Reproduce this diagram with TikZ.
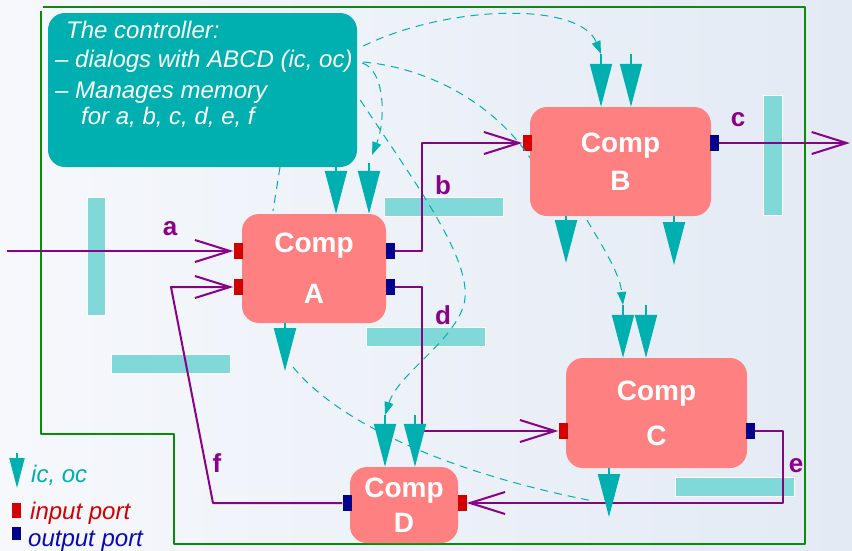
\documentclass[tikz,border=0pt]{standalone}
\usepackage{fontspec}
\setmainfont{Liberation Sans}
\usetikzlibrary{arrows.meta, calc}
\definecolor{cm-bg}{HTML}{F6F8FC}
\definecolor{cm-bgedge}{HTML}{E3EAF4}
\definecolor{cm-frame}{HTML}{0A8C0A}
\definecolor{cm-teal}{HTML}{00B0B0}
\definecolor{cm-bar}{HTML}{80D8D8}
\definecolor{cm-salmon}{HTML}{FF8080}
\definecolor{cm-purple}{HTML}{8B008B}
\definecolor{cm-red}{HTML}{D40000}
\definecolor{cm-navy}{HTML}{00008C}
\definecolor{cm-blue}{HTML}{0A0AB4}

\begin{document}
\begin{tikzpicture}[x=1pt, y=-1pt, line join=round,
  comp/.style={fill=cm-salmon, rounded corners=17pt, text=white, align=center,
    inner sep=0pt, font=\bfseries\fontsize{28}{30}\selectfont},
  inport/.style={fill=cm-red, minimum width=9pt, minimum height=16pt, inner sep=0pt},
  outport/.style={inport, fill=cm-navy},
  sig/.style={draw=cm-purple, line width=2pt,
    -{Straight Barb[length=35pt, width=22pt]}},
  siglabel/.style={text=cm-purple, inner sep=0pt,
    font=\bfseries\fontsize{26}{28}\selectfont},
  bar/.style={fill=cm-bar, draw=white, line width=0.8pt},
  icoc/.style={draw=cm-teal, line width=2pt, -{Triangle[length=43pt, width=22pt]}},
  ctl/.style={draw=cm-teal, line width=1pt, dash pattern=on 8pt off 6pt},
  ctltip/.style={ctl, -{Triangle[length=13pt, width=9pt]}},
  key/.style={anchor=base west, inner sep=0pt,
    font=\itshape\fontsize{24}{28}\selectfont}]

  \useasboundingbox (0,0) rectangle (852,550);
  \shade[left color=cm-bg, right color=cm-bgedge] (0,0) rectangle (852,550);

  % system boundary
  \draw[cm-frame, line width=2pt] (43,7) -- (805,7) -- (805,544) -- (174,544)
    -- (174,434) -- (41,434) -- (41,11);

  % memory cells
  \draw[bar] (87,197) rectangle (105,315);
  \draw[bar] (111,354) rectangle (230,373);
  \draw[bar] (384,197) rectangle (503,216);
  \draw[bar] (366,327) rectangle (485,346);
  \draw[bar] (763,95) rectangle (782,215);
  \draw[bar] (675,477) rectangle (794,496);

  % controller
  \node[fill=cm-teal, rounded corners=17pt, minimum width=309pt,
    minimum height=154pt] (ctrl) at (202.5,90) {};
  \node[anchor=north west, align=left, inner sep=0pt, text=white,
    font=\itshape\fontsize{24}{29}\selectfont] (ctrlText) at (55,21)
    {\hspace*{11pt}The controller:\\
     – dialogs with ABCD (ic, oc)\\[2pt]
     – Manages memory\\[-3pt]
     \hspace*{26pt}for a, b, c, d, e, f};

  % components
  \node[comp, minimum width=144pt, minimum height=109pt] (compA) at (314,268.5) {Comp\\[21pt]A};
  \node[comp, minimum width=181pt, minimum height=109pt] (compB) at (620.5,161.5) {Comp\\[8pt]B};
  \node[comp, minimum width=181pt, minimum height=110pt] (compC) at (656.5,413) {Comp\\[15pt]C};
  \node[comp, minimum width=108pt, minimum height=76pt] (compD) at (404,505) {Comp\\[5pt]D};

  % ports
  \node[inport]  (Aa) at (238,251) {};
  \node[inport]  (Af) at (238,287) {};
  \node[outport] (Ab) at (390,251) {};
  \node[outport] (Ad) at (390,287) {};
  \node[inport]  (Bi) at (527,143) {};
  \node[outport] (Bo) at (714,143) {};
  \node[inport]  (Ci) at (563,431) {};
  \node[outport] (Co) at (750,431) {};
  \node[outport] (Do) at (347,503) {};
  \node[inport]  (Di) at (462,503) {};

  % ic / oc stubs
  \coordinate (Ain1) at (336,163);
  \coordinate (Ain2) at (369,163);
  \coordinate (Aout) at (285,371);
  \coordinate (Bin1) at (601,54);
  \coordinate (Bin2) at (631,54);
  \coordinate (Bout1) at (566,263);
  \coordinate (Bout2) at (674,265);
  \coordinate (Cin1) at (623,305);
  \coordinate (Cin2) at (646,305);
  \coordinate (Cout) at (609,517);
  \coordinate (Din1) at (385,415);
  \coordinate (Din2) at (415,415);
  \coordinate (aSrc) at (7,251);
  \coordinate (cEnd) at (850,143);

  % control dialog
  \draw[ctltip] ($(ctrl.east)+(6,-44)$) .. controls (450,4) and (580,2) .. (Bin1);
  \draw[ctl] ($(ctrl.east)+(6,-28)$) .. controls (430,68) and (495,105) .. ($(compB.west)+(0,-4)$);
  \draw[ctltip] ($(ctrl.east)+(5,-27)$) .. controls (385,70) and (386,120) .. ($(Ain2)+(3,-8)$);
  \draw[ctltip] ($(ctrl.east)+(3,10)$) .. controls (420,190) and (480,270) .. (462,310)
    .. controls (448,345) and (398,375) .. (Din1);
  \draw[ctl] ($(ctrl.south)+(77.5,0)$) -- ($(compA.north)+(-41,-3)$);
  \draw[ctl] ($(Aout)+(8,-4)$) .. controls (338,422) and (445,472) .. ($(Cout)+(-16,-16)$);
  \draw[ctltip] ($(compB.south)+(-33.5,4)$) .. controls (605,250) and (620,275) .. (Cin1);

  % data flows
  \draw[sig] (aSrc) -- (Aa);
  \draw[sig] (Ab) -- ++(32,0) |- (Bi);
  \draw[sig] (Bo) -- (cEnd);
  \draw[sig] (Ad) -- ++(32,0) |- (Ci);
  \draw[sig] (Co) -- ++(33,0) |- (Di);
  \draw[sig] (Do) -- (213,503) -- (171,287) -- (Af);

  \foreach \stub in {Ain1, Ain2} \draw[icoc] (\stub) -- (\stub |- compA.north);
  \foreach \stub in {Bin1, Bin2} \draw[icoc] (\stub) -- (\stub |- compB.north);
  \foreach \stub in {Cin1, Cin2} \draw[icoc] (\stub) -- (\stub |- compC.north);
  \foreach \stub in {Din1, Din2} \draw[icoc] (\stub) -- (\stub |- compD.north);
  \draw[icoc] (Aout |- compA.south) -- (Aout);
  \foreach \stub in {Bout1, Bout2} \draw[icoc] (\stub |- compB.south) -- (\stub);
  \draw[icoc] (Cout |- compC.south) -- (Cout);

  \node[siglabel] (labA) at (170,229) {a};
  \node[siglabel] (labB) at (443,185) {b};
  \node[siglabel] (labC) at (738,120) {c};
  \node[siglabel] (labD) at (443,315) {d};
  \node[siglabel] (labE) at (796,466) {e};
  \node[siglabel] (labF) at (217,463) {f};

  % legend
  \draw[icoc, -{Triangle[length=30pt, width=15pt]}] (17,453) -- (17,488);
  \node[key, text=cm-teal] (keyIcoc) at (31,482) {ic, oc};
  \node[inport, minimum height=15pt] (keyIn) at (16.5,510.5) {};
  \node[key, text=cm-red] (keyInText) at (30,519) {input port};
  \node[outport, minimum height=13pt] (keyOut) at (16.5,533.5) {};
  \node[key, text=cm-blue] (keyOutText) at (28,546) {output port};
\end{tikzpicture}
\end{document}
